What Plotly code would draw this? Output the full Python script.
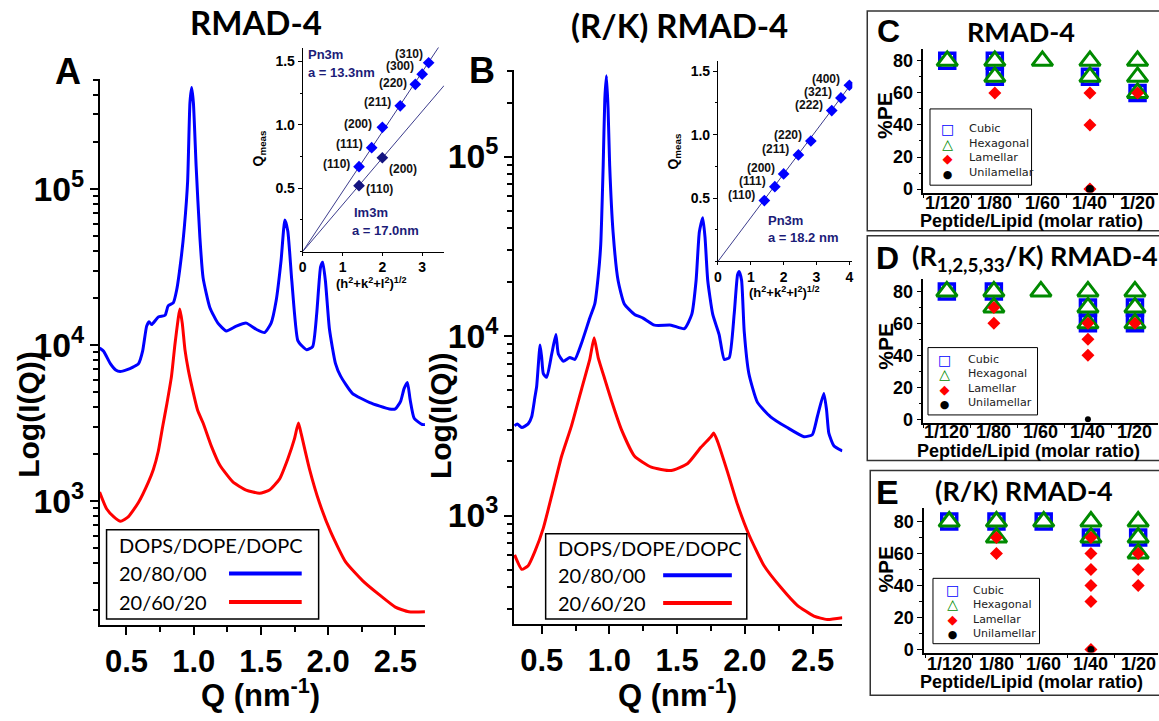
import plotly.graph_objects as go

W, H = 1159, 721


def px(x):
    return x / W


def py(y):
    return 1 - y / H


# ---------------- SAXS profiles ----------------
# RMAD-4, DOPS/DOPE/DOPC 20/80/00
a_blue_q = [0.30, 0.33, 0.38, 0.42, 0.453, 0.50, 0.552, 0.59, 0.62, 0.65, 0.668, 0.687, 0.737, 0.787,
            0.81, 0.848, 0.873, 0.91, 0.93, 0.955, 0.972, 0.985, 0.998, 1.018, 1.046, 1.07, 1.12, 1.18,
            1.243, 1.317, 1.391, 1.465, 1.527, 1.576, 1.613, 1.65, 1.678, 1.70, 1.73, 1.774, 1.81, 1.84,
            1.885, 1.915, 1.944, 1.96, 1.98, 2.01, 2.055, 2.093, 2.18, 2.31, 2.455, 2.50, 2.54, 2.565,
            2.59, 2.61, 2.64, 2.70, 2.72]
a_blue_i = [9550, 9120, 7590, 6920, 6760, 6920, 7240, 7590, 9120, 13200, 14100, 13500, 15100, 15500,
            17800, 18600, 22400, 38000, 56200, 112000, 355000, 447000, 355000, 141000, 49000, 26900,
            17400, 13800, 12300, 13200, 13800, 12600, 12000, 13800, 19100, 34700, 63100, 53700, 25700,
            10700, 9770, 9330, 9770, 15800, 31600, 33900, 25700, 12600, 7590, 6310, 4900, 4270, 3890,
            3890, 4370, 5250, 5750, 4470, 3390, 3090, 3090]

# RMAD-4, DOPS/DOPE/DOPC 20/60/20
a_red_q = [0.30, 0.352, 0.404, 0.456, 0.515, 0.589, 0.663, 0.70, 0.737, 0.77, 0.80, 0.835, 0.86, 0.885,
           0.897, 0.915, 0.935, 0.96, 0.99, 1.03, 1.07, 1.132, 1.194, 1.293, 1.39, 1.49, 1.564, 1.638,
           1.70, 1.75, 1.779, 1.80, 1.86, 1.935, 2.02, 2.13, 2.256, 2.38, 2.50, 2.60, 2.72]
a_red_i = [1140, 891, 794, 741, 794, 977, 1320, 1590, 2090, 3020, 4170, 6310, 10000, 14800, 17000, 13800,
           9330, 6920, 5250, 3800, 3160, 2240, 1700, 1320, 1175, 1120, 1175, 1380, 1860, 2510, 3160,
           2690, 1620, 977, 631, 407, 309, 251, 209, 195, 195]

# (R/K) RMAD-4, DOPS/DOPE/DOPC 20/80/00
b_blue_q = [0.30, 0.32, 0.353, 0.40, 0.426, 0.45, 0.463, 0.488, 0.50, 0.512, 0.537, 0.574, 0.605, 0.623,
            0.66, 0.708, 0.745, 0.794, 0.855, 0.892, 0.917, 0.936, 0.954, 0.966, 0.978, 0.99, 1.002,
            1.027, 1.064, 1.11, 1.186, 1.248, 1.333, 1.456, 1.554, 1.608, 1.64, 1.664, 1.689, 1.706,
            1.726, 1.763, 1.81, 1.848, 1.885, 1.921, 1.946, 1.958, 1.976, 1.995, 2.03, 2.093, 2.19,
            2.313, 2.436, 2.498, 2.535, 2.583, 2.603, 2.62, 2.657, 2.72]
b_blue_i = [3160, 3240, 3090, 3240, 3550, 4570, 5250, 8910, 7590, 6170, 5890, 7940, 10200, 7940, 7240,
            7590, 7410, 9120, 12600, 15100, 21400, 32400, 89100, 209000, 282000, 186000, 89100, 38000,
            20400, 15100, 13200, 12600, 11500, 11500, 11000, 13200, 20400, 38000, 45700, 35500, 20400,
            13200, 10200, 7410, 7590, 13200, 21900, 22900, 20400, 10700, 6170, 4270, 3550, 3090, 2750,
            2820, 3550, 4790, 3890, 2880, 2450, 2290]

# (R/K) RMAD-4, DOPS/DOPE/DOPC 20/60/20
b_red_q = [0.30, 0.353, 0.40, 0.45, 0.512, 0.574, 0.647, 0.72, 0.80, 0.855, 0.887, 0.917, 0.966, 1.015,
           1.088, 1.186, 1.309, 1.456, 1.578, 1.676, 1.75, 1.77, 1.80, 1.873, 1.946, 2.032, 2.142,
           2.265, 2.387, 2.51, 2.608, 2.72]
b_red_i = [603, 501, 525, 631, 851, 1290, 2140, 3160, 5250, 7410, 9770, 7590, 5750, 4370, 3020, 2140,
           1860, 1780, 1950, 2400, 2750, 2880, 2570, 1740, 1150, 776, 525, 398, 316, 275, 263, 269]

# ---------------- Indexing insets ----------------
a_pn3m_s = [1.414, 1.732, 2.0, 2.449, 2.828, 3.0, 3.162]
a_pn3m_q = [0.67, 0.82, 0.98, 1.15, 1.32, 1.40, 1.49]
a_pn3m_hkl = ["(110)", "(111)", "(200)", "(211)", "(220)", "(300)", "(310)"]
a_im3m_s = [1.414, 2.0]
a_im3m_q = [0.52, 0.74]
a_im3m_hkl = ["(110)", "(200)"]
a_pn3m_fit_s = [0, 3.45]
a_pn3m_fit_q = [0, 1.63]
a_im3m_fit_s = [0, 3.55]
a_im3m_fit_q = [0, 1.31]

b_pn3m_s = [1.414, 1.732, 2.0, 2.449, 2.828, 3.464, 3.742, 4.0]
b_pn3m_q = [0.48, 0.59, 0.69, 0.84, 0.95, 1.19, 1.29, 1.39]
b_pn3m_hkl = ["(110)", "(111)", "(200)", "(211)", "(220)", "(222)", "(321)", "(400)"]
b_pn3m_fit_s = [0, 4.1]
b_pn3m_fit_q = [0, 1.415]

# ---------------- Phase diagrams ----------------
ratios = ["1/120", "1/80", "1/60", "1/40", "1/20"]
phases = ["Cubic", "Hexagonal", "Lamellar", "Unilamellar"]

c_cubic_x = ["1/120", "1/80", "1/80", "1/40", "1/20"]
c_cubic_y = [80, 80, 70, 70, 60]
c_hex_x = ["1/120", "1/80", "1/80", "1/60", "1/40", "1/40", "1/20", "1/20", "1/20"]
c_hex_y = [80, 80, 70, 80, 80, 70, 80, 70, 60]
c_lam_x = ["1/80", "1/40", "1/40", "1/40", "1/20"]
c_lam_y = [60, 60, 40, 0, 60]
c_uni_x = ["1/40"]
c_uni_y = [0]

d_cubic_x = ["1/120", "1/80", "1/40", "1/40", "1/20", "1/20"]
d_cubic_y = [80, 80, 70, 60, 70, 60]
d_hex_x = ["1/120", "1/80", "1/80", "1/60", "1/40", "1/40", "1/40", "1/20", "1/20", "1/20"]
d_hex_y = [80, 80, 70, 80, 80, 70, 60, 80, 70, 60]
d_lam_x = ["1/80", "1/80", "1/40", "1/40", "1/40", "1/20"]
d_lam_y = [70, 60, 60, 50, 40, 60]
d_uni_x = ["1/40"]
d_uni_y = [0]

e_cubic_x = ["1/120", "1/80", "1/60", "1/40", "1/20"]
e_cubic_y = [80, 80, 80, 70, 70]
e_hex_x = ["1/120", "1/80", "1/80", "1/60", "1/40", "1/40", "1/20", "1/20", "1/20"]
e_hex_y = [80, 80, 70, 80, 80, 70, 80, 70, 60]
e_lam_x = ["1/80", "1/80", "1/40", "1/40", "1/40", "1/40", "1/40", "1/40", "1/20", "1/20", "1/20"]
e_lam_y = [70, 60, 70, 60, 50, 40, 30, 0, 60, 50, 40]
e_uni_x = ["1/40"]
e_uni_y = [0]

legend_labels = ["20/80/00", "20/60/20"]
BLUE = "#0000ff"
RED = "#ff0000"
GREEN = "#008a00"
NAVY = "#1c1c78"
ARIAL = "Liberation Sans"

fig = go.Figure()

# ---- main SAXS curves ----
for q, i, col, xa, ya in [(a_blue_q, a_blue_i, BLUE, "x", "y"), (a_red_q, a_red_i, RED, "x", "y"),
                          (b_blue_q, b_blue_i, BLUE, "x2", "y2"), (b_red_q, b_red_i, RED, "x2", "y2")]:
    fig.add_trace(go.Scatter(x=q, y=i, mode="lines", xaxis=xa, yaxis=ya, showlegend=False,
                             line=dict(color=col, width=3, shape="spline", smoothing=0.5)))

# ---- inset fits and reflections ----
fig.add_trace(go.Scatter(x=a_pn3m_fit_s, y=a_pn3m_fit_q, mode="lines", xaxis="x3", yaxis="y3",
                         showlegend=False, line=dict(color="#3c3c8c", width=1)))
fig.add_trace(go.Scatter(x=a_im3m_fit_s, y=a_im3m_fit_q, mode="lines", xaxis="x3", yaxis="y3",
                         showlegend=False, line=dict(color="#3c3c8c", width=1)))
fig.add_trace(go.Scatter(x=a_pn3m_s, y=a_pn3m_q, mode="markers", xaxis="x3", yaxis="y3", showlegend=False,
                         marker=dict(symbol="diamond", size=9, color=BLUE)))
fig.add_trace(go.Scatter(x=a_im3m_s, y=a_im3m_q, mode="markers", xaxis="x3", yaxis="y3", showlegend=False,
                         marker=dict(symbol="diamond", size=9, color="#141480")))
fig.add_trace(go.Scatter(x=b_pn3m_fit_s, y=b_pn3m_fit_q, mode="lines", xaxis="x4", yaxis="y4",
                         showlegend=False, line=dict(color="#3c3c8c", width=1)))
fig.add_trace(go.Scatter(x=b_pn3m_s, y=b_pn3m_q, mode="markers", xaxis="x4", yaxis="y4", showlegend=False,
                         marker=dict(symbol="diamond", size=9, color=BLUE)))

# ---- phase diagrams ----
panels = [
    ("x5", "y5", c_cubic_x, c_cubic_y, c_hex_x, c_hex_y, c_lam_x, c_lam_y, c_uni_x, c_uni_y, 8),
    ("x6", "y6", d_cubic_x, d_cubic_y, d_hex_x, d_hex_y, d_lam_x, d_lam_y, d_uni_x, d_uni_y, 6),
    ("x7", "y7", e_cubic_x, e_cubic_y, e_hex_x, e_hex_y, e_lam_x, e_lam_y, e_uni_x, e_uni_y, 7),
]
for xa, ya, cx, cy, hx, hy, lx, ly, ux, uy, usz in panels:
    fig.add_trace(go.Scatter(x=cx, y=cy, mode="markers", name=phases[0], xaxis=xa, yaxis=ya,
                             showlegend=False,
                             marker=dict(symbol="square", size=15, color="white",
                                         line=dict(color=BLUE, width=3.5))))
    fig.add_trace(go.Scatter(x=hx, y=hy, mode="markers", name=phases[1], xaxis=xa, yaxis=ya,
                             showlegend=False,
                             marker=dict(symbol="triangle-up", size=18, color="white",
                                         line=dict(color=GREEN, width=3))))
    fig.add_trace(go.Scatter(x=lx, y=ly, mode="markers", name=phases[2], xaxis=xa, yaxis=ya,
                             showlegend=False, marker=dict(symbol="diamond", size=10, color=RED)))
    fig.add_trace(go.Scatter(x=ux, y=uy, mode="markers", name=phases[3], xaxis=xa, yaxis=ya,
                             showlegend=False, marker=dict(symbol="circle", size=usz, color="black")))

tickfont_main = dict(family=ARIAL, size=27, color="black", weight="bold")
tickfont_x_main = dict(family=ARIAL, size=31, color="black", weight="bold")
tickfont_inset = dict(family=ARIAL, size=14, color="black", weight="bold")
tickfont_pd = dict(family=ARIAL, size=18, color="black", weight="bold")


def main_x(domain, rng):
    return dict(domain=domain, range=rng, showgrid=False, zeroline=False,
                showline=True, linecolor="black", linewidth=2, ticks="outside", ticklen=8,
                tickwidth=2, tickcolor="black", tick0=0.5, dtick=0.5, tickformat=".1f",
                tickfont=tickfont_x_main,
                minor=dict(ticks="outside", ticklen=5, tickwidth=1.5, tickcolor="black", dtick=0.25))


def main_y(domain, rng):
    return dict(domain=domain, type="log", range=rng, showgrid=False, zeroline=False,
                showline=True, linecolor="black", linewidth=2, ticks="outside", ticklen=8,
                tickwidth=2, tickcolor="black", dtick=1, exponentformat="power",
                tickfont=tickfont_main,
                minor=dict(ticks="outside", ticklen=5, tickwidth=1.5, tickcolor="black", dtick="D1"))


def inset_x(domain, rng, vals):
    return dict(domain=domain, range=rng, showgrid=False, zeroline=False, showline=True,
                linecolor="black", linewidth=1, ticks="outside", ticklen=3, tickcolor="black",
                tickvals=vals, tickfont=tickfont_inset)


def inset_y(domain, rng):
    return dict(domain=domain, range=rng, showgrid=False, zeroline=False, showline=True,
                linecolor="black", linewidth=1, ticks="outside", ticklen=4, tickcolor="black",
                tickvals=[0.5, 1.0, 1.5], tickformat=".1f", tickfont=tickfont_inset,
                minor=dict(ticks="outside", ticklen=2, tickcolor="black", dtick=0.25))


def pd_x(domain, rng):
    return dict(domain=domain, range=rng, type="category", categoryorder="array", categoryarray=ratios,
                showgrid=False, zeroline=False, showline=True, linecolor="black", linewidth=1.5,
                ticks="outside", ticklen=4, tickcolor="black", tickson="boundaries",
                showticklabels=False)


def pd_y(domain, rng):
    return dict(domain=domain, range=rng, showgrid=False, zeroline=False, showline=True,
                linecolor="black", linewidth=1.5, ticks="outside", ticklen=5, tickcolor="black",
                tickvals=[0, 20, 40, 60, 80], tickfont=tickfont_pd,
                minor=dict(ticks="outside", ticklen=3, tickcolor="black", dtick=10))


layout = dict(
    width=W, height=H, margin=dict(l=0, r=0, t=0, b=0), showlegend=False,
    paper_bgcolor="white", plot_bgcolor="rgba(0,0,0,0)",
    xaxis=dict(main_x([px(96), px(423)], [0.3, 2.722]), anchor="y"),
    yaxis=dict(main_y([py(631), py(80)], [2.206, 5.703]), anchor="x"),
    xaxis2=dict(main_x([px(512), px(842)], [0.294, 2.72]), anchor="y2"),
    yaxis2=dict(main_y([py(630), py(71)], [2.396, 5.481]), anchor="x2"),
    xaxis3=dict(inset_x([px(300), px(442)], [0, 3.55], [0, 1, 2, 3]), anchor="y3"),
    yaxis3=dict(inset_y([py(254), py(48)], [0, 1.61]), anchor="x3"),
    xaxis4=dict(inset_x([px(717), px(852)], [0, 4.09], [0, 1, 2, 3, 4]), anchor="y4"),
    yaxis4=dict(inset_y([py(264), py(62)], [0, 1.578]), anchor="x4"),
    xaxis5=dict(pd_x([px(923.3), 1], [-0.503, 4.43]), anchor="y5"),
    yaxis5=dict(pd_y([py(194.5), py(49.3)], [-2.2, 87.5]), anchor="x5"),
    xaxis6=dict(pd_x([px(923.3), 1], [-0.5, 4.49]), anchor="y6"),
    yaxis6=dict(pd_y([py(426.7), py(281.7)], [-2.1, 87.8]), anchor="x6"),
    xaxis7=dict(pd_x([px(924), 1], [-0.534, 4.42]), anchor="y7"),
    yaxis7=dict(pd_y([py(659), py(513.3)], [-2.0, 88.3]), anchor="x7"),
)
fig.update_layout(**layout)

ann = []


def text(x, y, s, size, family=ARIAL, weight="bold", color="black", angle=0, xanchor="center",
         align="center"):
    ann.append(dict(x=px(x), y=py(y), xref="paper", yref="paper", text=s, showarrow=False,
                    xanchor=xanchor, yanchor="middle", textangle=angle, align=align,
                    font=dict(family=family, size=size, color=color, weight=weight)))


# panel titles and letters
text(253, 22, "RMAD-4", 33, family="Lato")
text(678, 25, "(R/K) RMAD-4", 33, family="Lato")
text(64, 72, "A", 36)
text(480, 71, "B", 36)
text(888, 31, "C", 32)
text(1021, 32, "RMAD-4", 27, family="Lato")
text(887, 261, "D", 32)
text(910, 260, "(R<sub>1,2,5,33</sub>/K) RMAD-4", 27, family="Lato", xanchor="left")
text(887, 497, "E", 34)
text(1024, 495, "(R/K) RMAD-4", 27, family="Lato")

# main axis titles
text(25, 418, "Log(I(Q))", 30, angle=-90)
text(439, 420, "Log(I(Q))", 30, angle=-90)
text(258, 700, "Q (nm<sup>-1</sup>)", 31)
text(676, 700, "Q (nm<sup>-1</sup>)", 31)

# inset axis titles
text(256, 150, "Q<sub>meas</sub>", 14, angle=-90)
text(672, 153, "Q<sub>meas</sub>", 14, angle=-90)
text(369, 286, "(h<sup>2</sup>+k<sup>2</sup>+l<sup>2</sup>)<sup>1/2</sup>", 13)
text(784, 295, "(h<sup>2</sup>+k<sup>2</sup>+l<sup>2</sup>)<sup>1/2</sup>", 13)

# inset phase labels
text(303, 55, "Pn3m", 13, color=NAVY, xanchor="left")
text(303, 73, "a = 13.3nm", 13, color=NAVY, xanchor="left")
text(350, 215, "Im3m", 13, color=NAVY, xanchor="left")
text(347, 233, "a = 17.0nm", 13, color=NAVY, xanchor="left")
text(765, 223, "Pn3m", 13, color=NAVY, xanchor="left")
text(765, 240, "a = 18.2 nm", 13, color=NAVY, xanchor="left")

# phase-diagram axis titles and ratio labels
for yc in (117, 350, 575):
    text(885, yc, "%PE", 21, angle=-90)
for xa, ylab, ytitle, xt in [("x5", 205, 223.5, 1031.7), ("x6", 436.5, 455, 1029),
                             ("x7", 670.5, 689, 1032)]:
    for r in ratios:
        ann.append(dict(x=r, y=py(ylab), xref=xa, yref="paper", text=r, showarrow=False,
                        xanchor="center", yanchor="middle", font=tickfont_pd))
    text(xt, ytitle, "Peptide/Lipid (molar ratio)", 18)

# Miller indices next to reflections
hkl_font = dict(family=ARIAL, size=12, color="#111", weight="bold")
for s, q, lab, dx, dy in zip(a_pn3m_s, a_pn3m_q, a_pn3m_hkl, [-7, -7, -8, -7, -6, -6, -4],
                             [3, 4, 3, 4, 1, 8, 9]):
    ann.append(dict(x=s, y=q, xref="x3", yref="y3", text=lab, showarrow=False, xanchor="right",
                    yanchor="middle", xshift=dx, yshift=dy, font=hkl_font))
for s, q, lab, dy in zip(a_im3m_s, a_im3m_q, a_im3m_hkl, [-3, -11]):
    ann.append(dict(x=s, y=q, xref="x3", yref="y3", text=lab, showarrow=False, xanchor="left",
                    yanchor="middle", xshift=5, yshift=dy, font=hkl_font))
for s, q, lab in zip(b_pn3m_s, b_pn3m_q, b_pn3m_hkl):
    ann.append(dict(x=s, y=q, xref="x4", yref="y4", text=lab, showarrow=False, xanchor="right",
                    yanchor="middle", xshift=-7, yshift=6, font=hkl_font))

shapes = []

# composition keys for the SAXS panels
for (x0, y0, x1, y1), rows, (lx0, lx1) in [((103, 535, 316, 625), (550, 579, 608), (226, 299)),
                                           ((544, 539, 746, 625), (553, 581, 609), (662, 731))]:
    shapes.append(dict(type="rect", xref="paper", yref="paper", x0=px(x0), x1=px(x1), y0=py(y1),
                       y1=py(y0), line=dict(color="black", width=1.5), fillcolor="white", layer="above"))
    text(x0 + 10, rows[0], "DOPS/DOPE/DOPC", 20, family="Lato", weight="normal", xanchor="left")
    for yy, lab, col in zip(rows[1:], legend_labels, [BLUE, RED]):
        text(x0 + 10, yy, lab, 20, family="Lato", weight="normal", xanchor="left")
        shapes.append(dict(type="line", xref="paper", yref="paper", x0=px(lx0), x1=px(lx1), y0=py(yy),
                           y1=py(yy), line=dict(color=col, width=4), layer="above"))

# phase keys for the phase diagrams: one stacked column of symbols, one of names
key_glyphs = ["\u25A1", "\u25B3", "\u25C6", "\u25CF"]
key_colors = [BLUE, GREEN, RED, "black"]
key_sizes = [14, 14, 13, 11]
glyph_col = "<br>".join(f'<span style="color:{c};font-size:{s}px">{g}</span>'
                        for g, c, s in zip(key_glyphs, key_colors, key_sizes))
name_col = "<br>".join(phases)
for (bx0, by0, bx1, by1), gx, tx, yc, fs in [
        ((930, 110, 1032, 187), 948, 967, 152, 11.3),
        ((928, 351, 1038, 419), 945, 966, 385, 11.1),
        ((933, 584, 1040, 650), 953, 971, 617.5, 11.0)]:
    shapes.append(dict(type="rect", xref="paper", yref="paper", x0=px(bx0), x1=px(bx1), y0=py(by1),
                       y1=py(by0), line=dict(color="black", width=1), fillcolor="white", layer="above"))
    text(gx, yc, glyph_col, fs, family="DejaVu Sans", weight="bold")
    text(tx, yc, name_col, fs, family="DejaVu Sans", weight="normal", color="#222", xanchor="left",
         align="left")

# frames around the phase-diagram panels
for x0, y0, y1 in [(867, 11, 233), (867, 238, 465), (870, 475, 702)]:
    shapes.append(dict(type="rect", xref="paper", yref="paper", x0=px(x0), x1=px(1165), y0=py(y1),
                       y1=py(y0), line=dict(color="#333", width=1.5), layer="below"))

fig.update_layout(annotations=ann, shapes=shapes)
fig.write_html("out.html")
